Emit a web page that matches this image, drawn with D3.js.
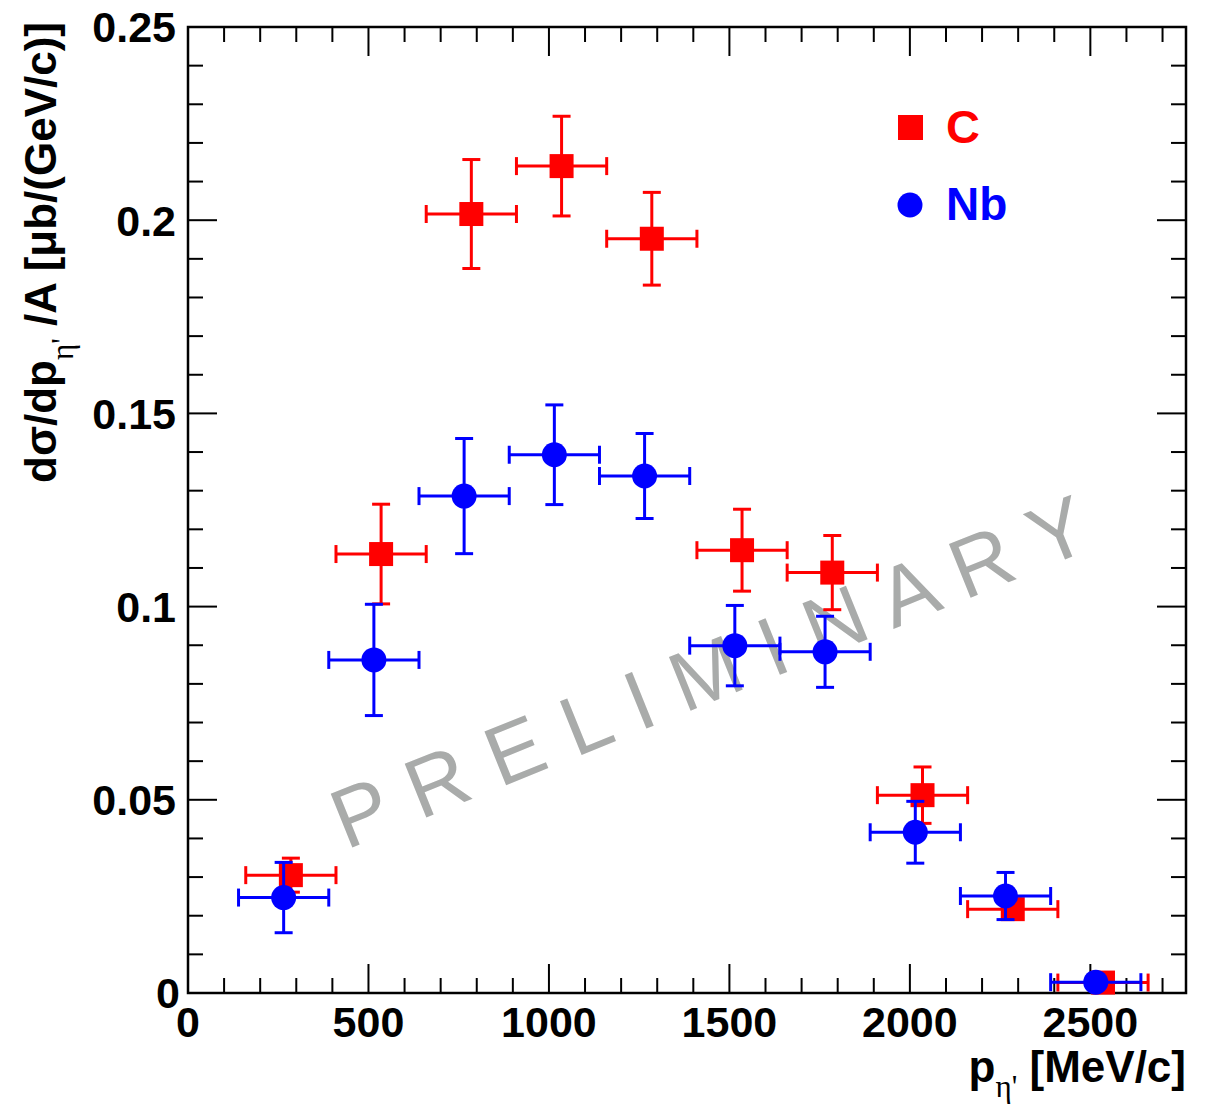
<!DOCTYPE html>
<html>
<head>
<meta charset="utf-8">
<script src="https://cdn.jsdelivr.net/npm/d3@7"></script>
<style>
  body { margin: 0; background: white; }
  svg text { font-family: "Liberation Sans", Arial, Helvetica, sans-serif; }
</style>
</head>
<body>
<div id="chart"></div>
<script>
// C (red squares)
var cX    = [285, 535, 785, 1035, 1285, 1535, 1785, 2035, 2285, 2535];
var cY    = [0.0305, 0.1136, 0.2016, 0.2140, 0.1952, 0.1146, 0.1088, 0.0512, 0.0217, 0.0027];
var cYerr = [0.0044, 0.0129, 0.0141, 0.0129, 0.0120, 0.0106, 0.0096, 0.0073, 0.0026, 0.0010];

// Nb (blue circles)
var nbX    = [265, 515, 765, 1015, 1265, 1515, 1765, 2015, 2265, 2515];
var nbY    = [0.0247, 0.0862, 0.1286, 0.1393, 0.1338, 0.0899, 0.0883, 0.0416, 0.0251, 0.0028];
var nbYerr = [0.0091, 0.0144, 0.0149, 0.0129, 0.0110, 0.0104, 0.0092, 0.0080, 0.0061, 0.0010];

var xErr = 125;

var xTicks = [0, 500, 1000, 1500, 2000, 2500];
var yTicks = [0, 0.05, 0.1, 0.15, 0.2, 0.25];

canWidth = 1216;
canHeight = 1107;

// plot frame (window.top is reserved, so prefix these)
var padLeft = 188, padRight = 1186, padTop = 27, padBottom = 993;

var svg = d3.select("#chart")
    .append("svg")
    .attr("width", canWidth)
    .attr("height", canHeight);

var x = d3.scaleLinear().domain([0, 2765]).range([padLeft, padRight]);
var y = d3.scaleLinear().domain([0, 0.25]).range([padBottom, padTop]);

var majorLen = 29, minorLen = 15;

// ticks, drawn inward on all four sides
var ticks = svg.append("g").attr("stroke", "black").attr("stroke-width", 2);

d3.range(100, 2765, 100).forEach(function (v) {
    var len = v % 500 == 0 ? majorLen : minorLen;
    ticks.append("line").attr("x1", x(v)).attr("x2", x(v)).attr("y1", padBottom).attr("y2", padBottom - len);
    ticks.append("line").attr("x1", x(v)).attr("x2", x(v)).attr("y1", padTop).attr("y2", padTop + len);
});

d3.range(1, 25).forEach(function (i) {
    var v = i / 100;
    var len = i % 5 == 0 ? majorLen : minorLen;
    ticks.append("line").attr("x1", padLeft).attr("x2", padLeft + len).attr("y1", y(v)).attr("y2", y(v));
    ticks.append("line").attr("x1", padRight).attr("x2", padRight - len).attr("y1", y(v)).attr("y2", y(v));
});

// frame
svg.append("rect")
    .attr("x", padLeft)
    .attr("y", padTop)
    .attr("width", padRight - padLeft)
    .attr("height", padBottom - padTop)
    .attr("fill", "none")
    .attr("stroke", "black")
    .attr("stroke-width", 2.5);

// tick labels
svg.selectAll(".xlab")
    .data(xTicks)
    .enter()
    .append("text")
    .attr("x", function (d) { return x(d); })
    .attr("y", padBottom + 44)
    .attr("text-anchor", "middle")
    .attr("font-size", 43)
    .attr("font-weight", "bold")
    .text(function (d) { return d; });

svg.selectAll(".ylab")
    .data(yTicks)
    .enter()
    .append("text")
    .attr("x", function (d) { return d == 0 ? 180 : 176; })
    .attr("y", function (d) { return y(d); })
    .attr("dy", "0.36em")
    .attr("text-anchor", "end")
    .attr("font-size", 43)
    .attr("font-weight", "bold")
    .text(function (d) { return d == 0 ? "0" : String(+d.toFixed(2)); });

// axis titles
var xt = svg.append("text")
    .attr("x", padRight)
    .attr("y", 1082)
    .attr("text-anchor", "end")
    .attr("font-size", 44)
    .attr("font-weight", "bold");
xt.append("tspan").text("p");
xt.append("tspan").attr("dy", 15).attr("font-size", 31).attr("font-weight", "normal")
    .attr("font-family", "Liberation Serif, serif").text("\u03b7'");
xt.append("tspan").attr("dy", -15).text(" [MeV/c]");

var yt = svg.append("text")
    .attr("transform", "translate(56," + 22 + ") rotate(-90)")
    .attr("text-anchor", "end")
    .attr("font-size", 44)
    .attr("font-weight", "bold");
yt.append("tspan").text("d\u03c3/dp");
yt.append("tspan").attr("dy", 17).attr("font-size", 31).attr("font-weight", "normal")
    .attr("font-family", "Liberation Serif, serif").text("\u03b7'");
yt.append("tspan").attr("dy", -17).text(" /A [\u03bcb/(GeV/c)]");

// watermark
svg.append("text")
    .attr("transform", "translate(346,850) rotate(-22)")
    .attr("font-size", 84)
    .attr("letter-spacing", 1)
    .attr("fill", "#a9abaa")
    .text("P R E L I M I N A R Y");

function drawSeries(xs, ys, errs, color, shape) {
    var g = svg.append("g");
    var cap = 9;
    xs.forEach(function (xv, i) {
        var cx = x(xv), cy = y(ys[i]);
        var x0 = x(xv - xErr), x1 = x(xv + xErr);
        var y0 = y(ys[i] - errs[i]), y1 = y(ys[i] + errs[i]);
        var lines = [
            [x0, cy, x1, cy],
            [x0, cy - cap, x0, cy + cap],
            [x1, cy - cap, x1, cy + cap],
            [cx, y0, cx, y1],
            [cx - cap, y0, cx + cap, y0],
            [cx - cap, y1, cx + cap, y1]
        ];
        lines.forEach(function (l) {
            g.append("line")
                .attr("x1", l[0]).attr("y1", l[1]).attr("x2", l[2]).attr("y2", l[3])
                .attr("stroke", color)
                .attr("stroke-width", 3);
        });
    });
    xs.forEach(function (xv, i) {
        if (shape == "square") {
            g.append("rect")
                .attr("x", x(xv) - 12).attr("y", y(ys[i]) - 12)
                .attr("width", 24).attr("height", 24)
                .attr("fill", color);
        } else {
            g.append("circle")
                .attr("cx", x(xv)).attr("cy", y(ys[i]))
                .attr("r", 12.5)
                .attr("fill", color);
        }
    });
}

drawSeries(cX, cY, cYerr, "#ff0000", "square");
drawSeries(nbX, nbY, nbYerr, "#0000ff", "circle");

// legend
var legend = svg.append("g");
legend.append("rect").attr("x", 898).attr("y", 115).attr("width", 25).attr("height", 25).attr("fill", "#ff0000");
legend.append("text").attr("x", 946).attr("y", 143).attr("font-size", 47).attr("font-weight", "bold")
    .attr("fill", "#ff0000").text("C");
legend.append("circle").attr("cx", 910).attr("cy", 205).attr("r", 12.5).attr("fill", "#0000ff");
legend.append("text").attr("x", 946).attr("y", 220).attr("font-size", 46).attr("font-weight", "bold")
    .attr("fill", "#0000ff").text("Nb");
</script>
</body>
</html>
